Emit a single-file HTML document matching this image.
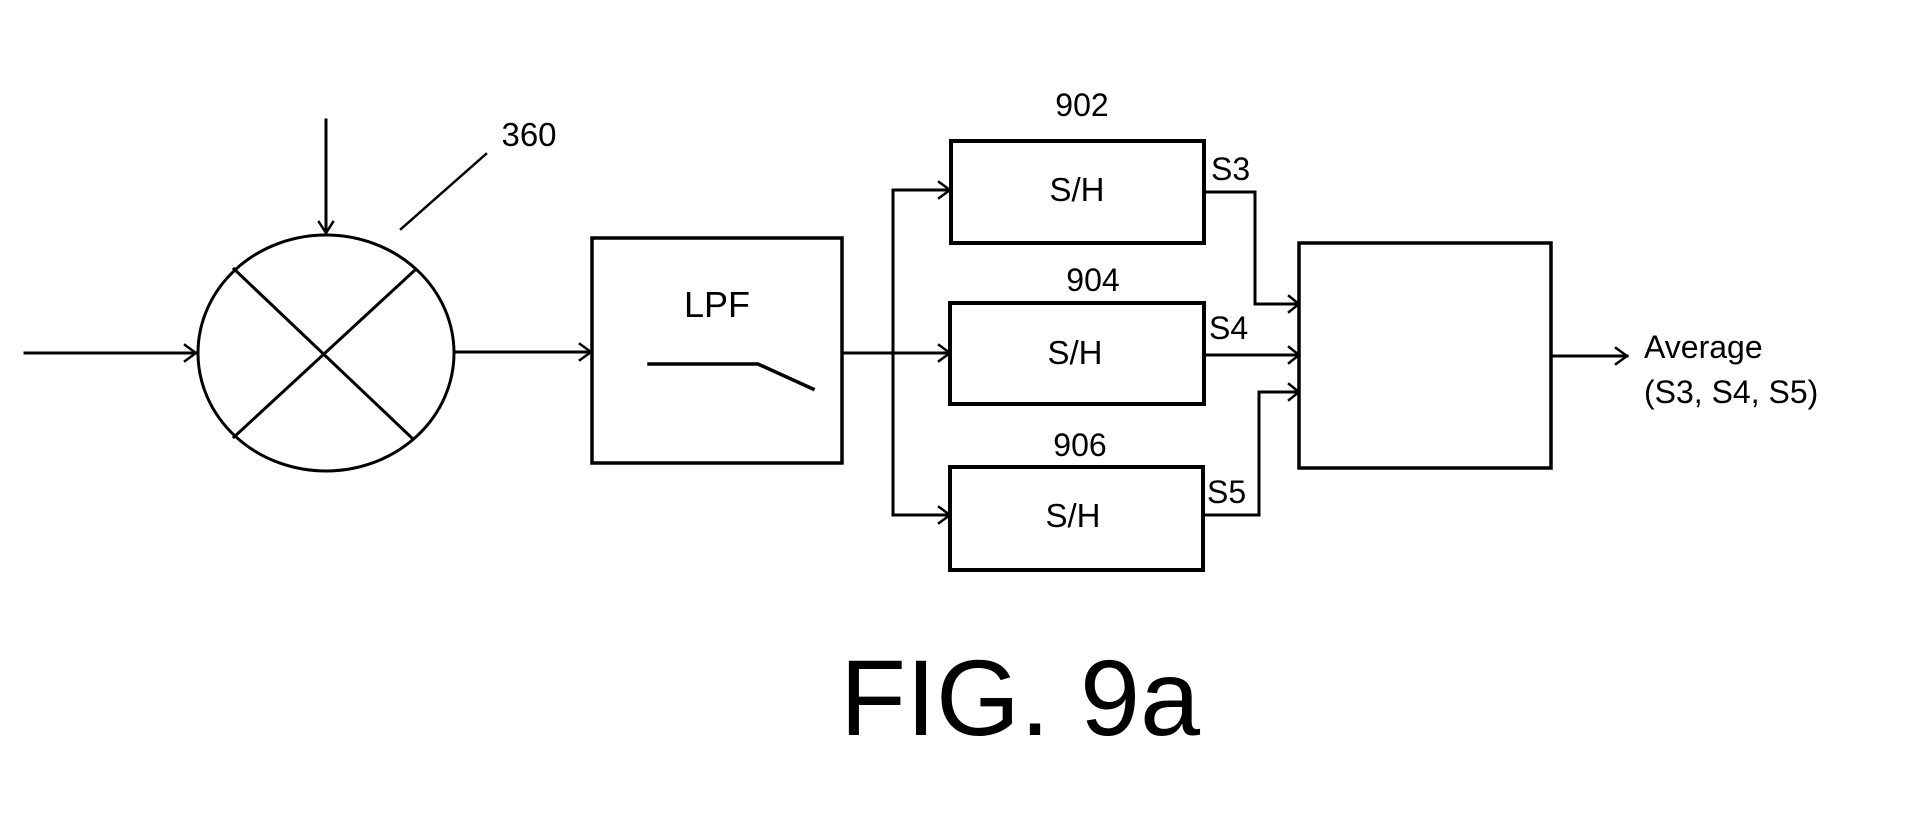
<!DOCTYPE html>
<html><head><meta charset="utf-8"><style>
html,body{margin:0;padding:0;background:#fff;}
svg{display:block;}
text{font-family:"Liberation Sans",Arial,sans-serif;fill:#000;}
</style></head><body>
<svg width="1925" height="815" viewBox="0 0 1925 815" xmlns="http://www.w3.org/2000/svg">
<g stroke="#000" fill="none" stroke-width="3" stroke-linecap="square">
  <!-- mixer -->
  <ellipse cx="326" cy="353" rx="128" ry="118"/>
  <line x1="234" y1="269" x2="413" y2="439"/>
  <line x1="415" y1="270" x2="234" y2="437"/>
  <line x1="326" y1="120" x2="326" y2="233"/>
  <polyline points="319,222 326,233 333,222" stroke-width="2.5"/>
  <line x1="25" y1="353" x2="196" y2="353"/>
  <polyline points="185,345 196,353 185,361" stroke-width="2.5"/>
  <line x1="486" y1="154" x2="401" y2="229" stroke-width="2.5"/>
  <!-- mixer to LPF -->
  <line x1="454" y1="352" x2="591" y2="352"/>
  <polyline points="580,344 591,352 580,360" stroke-width="2.5"/>
  <!-- LPF -->
  <rect x="592" y="238" width="250" height="225" stroke-width="3.5"/>
  <polyline points="649,364 758,364 813,389" stroke-width="3.5"/>
  <!-- branch -->
  <line x1="842" y1="353" x2="950" y2="353"/>
  <line x1="893" y1="190" x2="893" y2="515"/>
  <line x1="893" y1="190" x2="950" y2="190"/>
  <line x1="893" y1="515" x2="950" y2="515"/>
  <polyline points="939,182 950,190 939,198" stroke-width="2.5"/>
  <polyline points="939,345 950,353 939,361" stroke-width="2.5"/>
  <polyline points="939,507 950,515 939,523" stroke-width="2.5"/>
  <!-- S/H boxes -->
  <rect x="951" y="141" width="253" height="102" stroke-width="4"/>
  <rect x="950" y="303" width="254" height="101" stroke-width="4"/>
  <rect x="950" y="467" width="253" height="103" stroke-width="4"/>
  <!-- outputs -->
  <polyline points="1205,192 1255,192 1255,304 1299,304"/>
  <line x1="1205" y1="355" x2="1299" y2="355"/>
  <polyline points="1205,515 1259,515 1259,392 1299,392"/>
  <polyline points="1289,296 1299,304 1289,312" stroke-width="2.5"/>
  <polyline points="1289,347 1299,355 1289,363" stroke-width="2.5"/>
  <polyline points="1289,384 1299,392 1289,400" stroke-width="2.5"/>
  <!-- average box -->
  <rect x="1299" y="243" width="252" height="225" stroke-width="3.5"/>
  <line x1="1551" y1="356" x2="1627" y2="356"/>
  <polyline points="1616,348 1627,356 1616,364" stroke-width="2.5"/>
</g>
<text x="529" y="146" font-size="33" text-anchor="middle">360</text>
<text x="717" y="317" font-size="36" text-anchor="middle">LPF</text>
<text x="1082" y="116" font-size="32" text-anchor="middle">902</text>
<text x="1093" y="291" font-size="32" text-anchor="middle">904</text>
<text x="1080" y="456" font-size="32" text-anchor="middle">906</text>
<text x="1077" y="201" font-size="33" text-anchor="middle">S/H</text>
<text x="1075" y="364" font-size="33" text-anchor="middle">S/H</text>
<text x="1073" y="527" font-size="33" text-anchor="middle">S/H</text>
<text x="1211" y="180" font-size="32">S3</text>
<text x="1209" y="339" font-size="32">S4</text>
<text x="1207" y="503" font-size="32">S5</text>
<text x="1644" y="358" font-size="32">Average</text>
<text x="1644" y="403" font-size="32">(S3, S4, S5)</text>
<text x="840" y="735" font-size="108">FIG. 9a</text>
</svg>
</body></html>
